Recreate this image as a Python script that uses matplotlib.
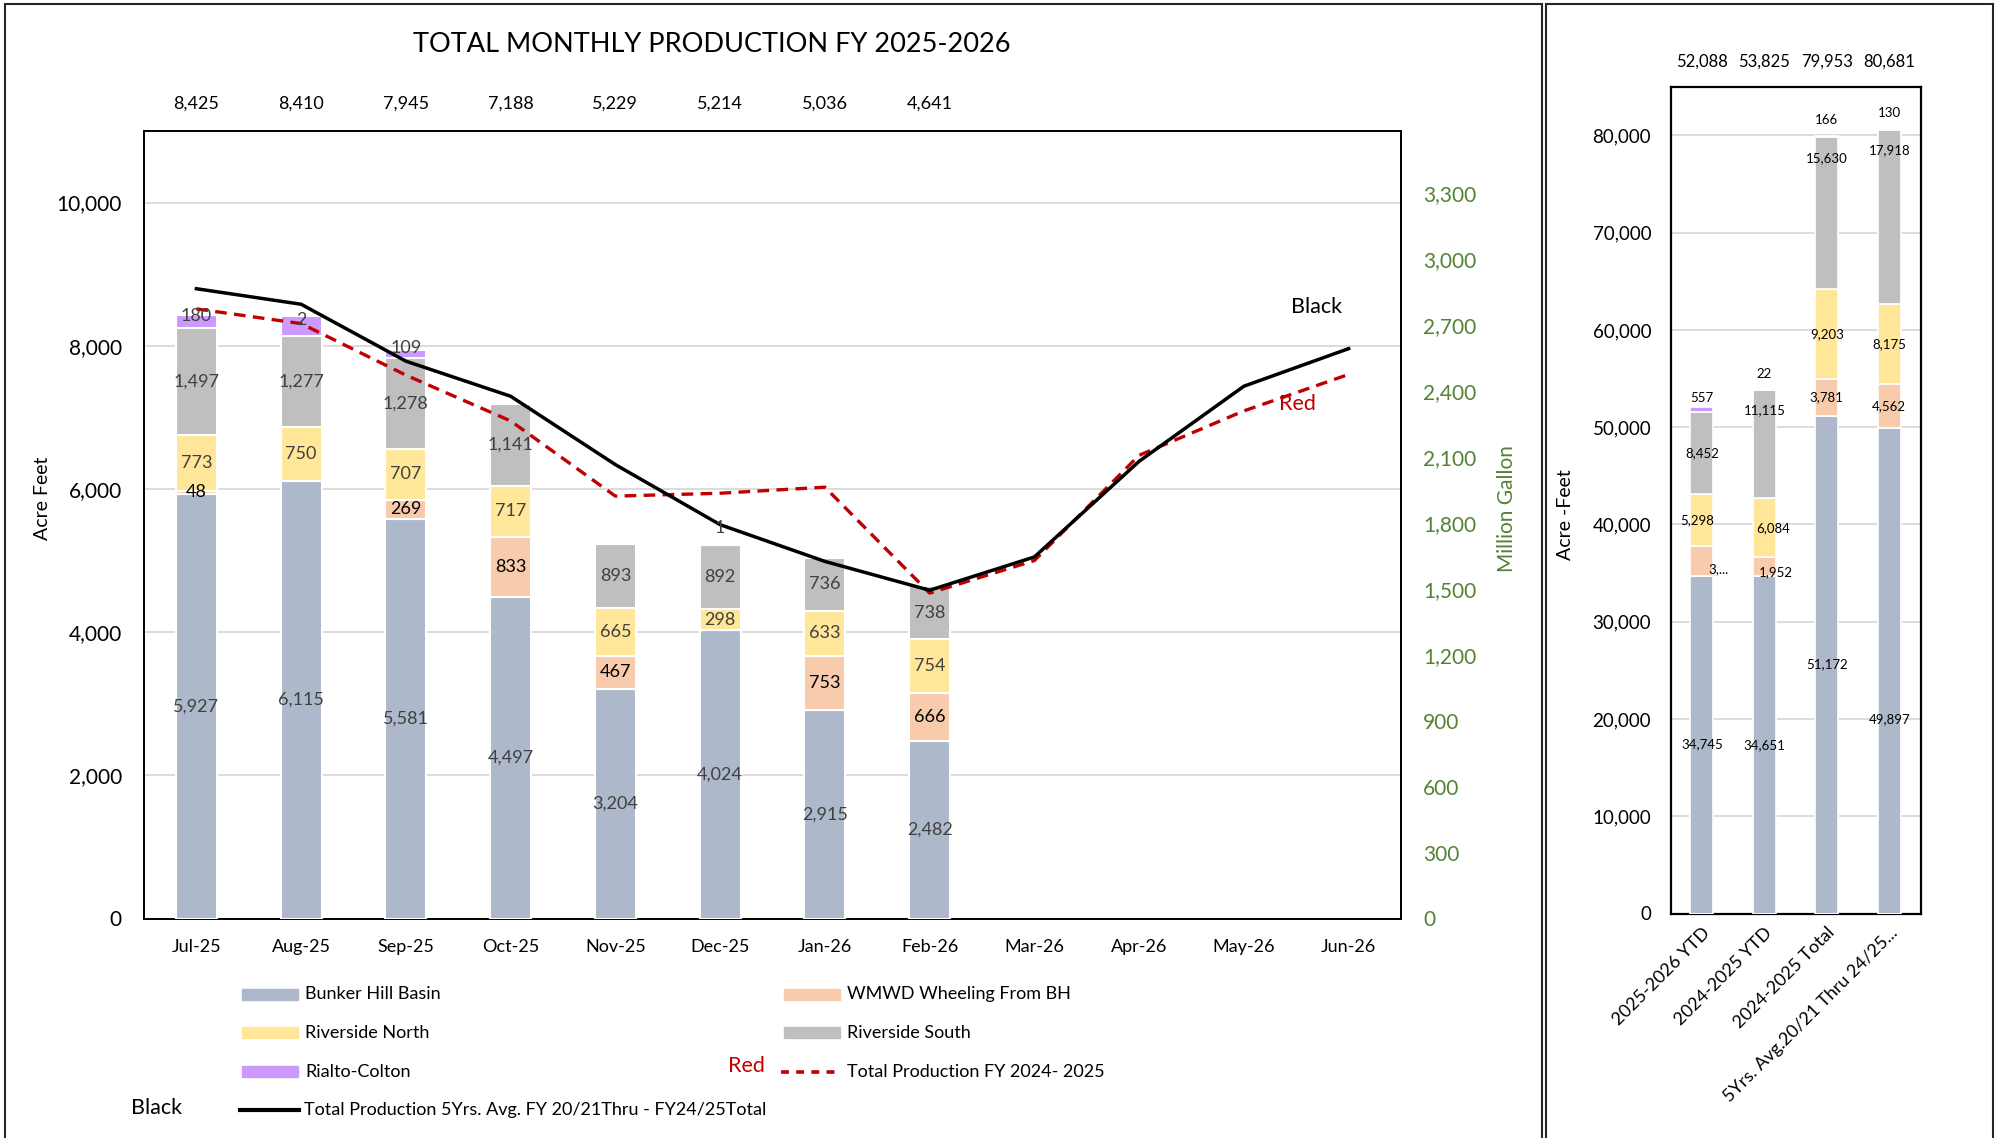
import numpy as np
import matplotlib
matplotlib.use("Agg")
import matplotlib.pyplot as plt
from matplotlib.patches import Rectangle
from matplotlib.lines import Line2D
from matplotlib.ticker import FuncFormatter

plt.rcParams["font.family"] = ["Lato", "DejaVu Sans"]

# ---------------------------------------------------------------------------
# Data (acre-feet)
# ---------------------------------------------------------------------------
months = ["Jul-25", "Aug-25", "Sep-25", "Oct-25", "Nov-25", "Dec-25",
          "Jan-26", "Feb-26", "Mar-26", "Apr-26", "May-26", "Jun-26"]

bunker_hill = [5927, 6115, 5581, 4497, 3204, 4024, 2915, 2482]
wmwd_wheeling = [48, 0, 269, 833, 467, 0, 753, 666]
riverside_north = [773, 750, 707, 717, 665, 298, 633, 754]
riverside_south = [1497, 1277, 1278, 1141, 893, 892, 736, 738]
rialto_colton = [180, 268, 109, 0, 0, 1, 0, 0]
rialto_labels = ["180", "2", "109", "", "", "1", "", ""]
monthly_totals = [8425, 8410, 7945, 7188, 5229, 5214, 5036, 4641]

avg_5yr = [8797, 8580, 7785, 7295, 6340, 5501, 4988, 4585, 5050, 6386, 7435, 7960]
fy_2425 = [8515, 8310, 7590, 6950, 5900, 5940, 6025, 4545, 5000, 6470, 7090, 7600]

summary_cats = ["2025-2026 YTD", "2024-2025 YTD", "2024-2025 Total",
                "5Yrs. Avg.20/21 Thru 24/25..."]
sum_bunker_hill = [34745, 34651, 51172, 49897]
sum_wmwd = [3036, 1952, 3781, 4562]
sum_wmwd_labels = ["3,...", "1,952", "3,781", "4,562"]
sum_riverside_north = [5298, 6084, 9203, 8175]
sum_riverside_south = [8452, 11115, 15630, 17918]
sum_rialto = [557, 22, 166, 130]
sum_totals = [52088, 53825, 79953, 80681]

AF_TO_MG = 0.325851

# ---------------------------------------------------------------------------
# Style
# ---------------------------------------------------------------------------
C_BH = "#ADB9CA"
C_WMWD = "#F8CBAD"
C_RN = "#FFE699"
C_RS = "#BFBFBF"
C_RC = "#CC99FF"
C_RED = "#C00000"
C_GREEN = "#548235"
C_GRID = "#D9D9D9"
C_LBL = "#404040"

W, H = 1999, 1138


def px_rect(l, t, r, b):
    return [l / W, 1 - b / H, (r - l) / W, (b - t) / H]


def px(x, y):
    return x / W, 1 - y / H


def fmt(v):
    return f"{int(round(v)):,}"


fig = plt.figure(figsize=(W / 100, H / 100), dpi=100)
fig.patch.set_facecolor("white")

# outer frames
fig.add_artist(Rectangle(px(5, 1150), 1537 / W, 1146 / H, transform=fig.transFigure,
                         fill=False, edgecolor="#262626", linewidth=1.5))
fig.add_artist(Rectangle(px(1546, 1150), 447 / W, 1146 / H, transform=fig.transFigure,
                         fill=False, edgecolor="#262626", linewidth=1.5))

# ---------------------------------------------------------------------------
# Main monthly chart
# ---------------------------------------------------------------------------
ax = fig.add_axes(px_rect(144, 131, 1401, 918.5))
x = np.arange(len(months))
nb = len(bunker_hill)
xb = x[:nb]

series = [
    (bunker_hill, C_BH, C_LBL, None),
    (wmwd_wheeling, C_WMWD, "black", None),
    (riverside_north, C_RN, C_LBL, None),
    (riverside_south, C_RS, C_LBL, None),
    (rialto_colton, C_RC, C_LBL, rialto_labels),
]
bottom = np.zeros(nb)
for vals, color, lcol, labels in series:
    vals = np.array(vals, dtype=float)
    ax.bar(xb, vals, 0.39, bottom=bottom, color=color, edgecolor="white",
           linewidth=1.5, zorder=3)
    for i in range(nb):
        txt = labels[i] if labels is not None else (fmt(vals[i]) if vals[i] > 0 else "")
        if not txt:
            continue
        yc = bottom[i] + vals[i] / 2
        if labels is not None:
            yc += 240 if vals[i] < 50 else 80
        ax.text(xb[i], yc, txt, ha="center", va="center", fontsize=13,
                color=lcol, zorder=6)
    bottom += vals

ax.plot(x, fy_2425, color=C_RED, linewidth=2.4, dashes=(3.5, 2.2), zorder=5)
ax.plot(x, avg_5yr, color="black", linewidth=2.5, zorder=5)

for i, t in enumerate(monthly_totals):
    ax.text(i, 1.0343, fmt(t), transform=ax.get_xaxis_transform(),
            ha="center", va="center", fontsize=13, color="black")

ax.set_xlim(-0.5, len(months) - 0.5)
ax.set_ylim(0, 11000)
ax.set_yticks(np.arange(0, 10001, 2000))
ax.yaxis.set_major_formatter(FuncFormatter(lambda v, p: f"{int(v):,}"))
ax.set_xticks(x)
ax.set_xticklabels(months)
ax.tick_params(axis="y", length=0, pad=16, labelsize=15)
ax.tick_params(axis="x", length=0, pad=14.5, labelsize=13)
ax.grid(axis="y", color=C_GRID, linewidth=1.3)
ax.set_axisbelow(True)
for s in ax.spines.values():
    s.set_color("black")
    s.set_linewidth(1.4)
ax.set_ylabel("Acre Feet", fontsize=14)
ax.yaxis.set_label_coords(-0.074, 0.534)

ax.text(0.933, 0.776, "Black", transform=ax.transAxes, ha="center", va="center",
        fontsize=15.5, color="black")
ax.text(0.918, 0.653, "Red", transform=ax.transAxes, ha="center", va="center",
        fontsize=15.5, color=C_RED)

ax2 = ax.twinx()
ax2.set_ylim(0, 11000 * AF_TO_MG)
ax2.set_yticks(np.arange(0, 3301, 300))
ax2.yaxis.set_major_formatter(FuncFormatter(lambda v, p: f"{int(v):,}"))
ax2.tick_params(axis="y", length=0, pad=16, labelsize=15, labelcolor=C_GREEN)
for name, s in ax2.spines.items():
    s.set_visible(name == "right")
    s.set_color("black")
    s.set_linewidth(1.4)
ax2.set_ylabel("Million Gallon", fontsize=15, color=C_GREEN)
ax2.yaxis.set_label_coords(1.0764, 0.521)

fig.text(*px(712, 45), "TOTAL MONTHLY PRODUCTION FY 2025-2026", ha="center",
         va="center", fontsize=19.5, color="black")

# ---------------------------------------------------------------------------
# Legend (drawn by hand to match the layout)
# ---------------------------------------------------------------------------
rows = [994, 1032.7, 1071.7, 1110]
patch_items = [
    (242, rows[0], C_BH, "Bunker Hill Basin"),
    (784, rows[0], C_WMWD, "WMWD Wheeling From BH"),
    (242, rows[1], C_RN, "Riverside North"),
    (784, rows[1], C_RS, "Riverside South"),
    (242, rows[2], C_RC, "Rialto-Colton"),
]
for lx, ly, col, lab in patch_items:
    fig.add_artist(Rectangle(px(lx, ly + 5.5), 56 / W, 11 / H,
                             transform=fig.transFigure, color=col))
    fig.text(*px(lx + 63, ly), lab, ha="left", va="center", fontsize=13)

fig.add_artist(Line2D([781 / W, 841 / W], [1 - rows[2] / H] * 2, color=C_RED,
                      linewidth=2.6, dashes=(2.2, 2.0), transform=fig.transFigure))
fig.text(*px(847, rows[2]), "Total Production FY 2024- 2025", ha="left",
         va="center", fontsize=13)
fig.text(*px(746, rows[2] - 6), "Red", ha="center", va="center", fontsize=15.5,
         color=C_RED)

fig.add_artist(Line2D([240 / W, 299 / W], [1 - rows[3] / H] * 2, color="black",
                      linewidth=3, transform=fig.transFigure))
fig.text(*px(304.5, rows[3]), "Total Production 5Yrs. Avg. FY 20/21Thru - FY24/25Total",
         ha="left", va="center", fontsize=13)
fig.text(*px(157, rows[3] - 2), "Black", ha="center", va="center", fontsize=15.5)

# ---------------------------------------------------------------------------
# Summary panel
# ---------------------------------------------------------------------------
axr = fig.add_axes(px_rect(1670.6, 86.7, 1920.5, 913.5))
xs = np.arange(len(summary_cats))

# label nudges in x (category units)
nudge_x = {("rn", 0): -0.08, ("rn", 1): 0.15, ("wm", 0): 0.27, ("wm", 1): 0.19}
sum_series = [
    ("bh", sum_bunker_hill, C_BH, None),
    ("wm", sum_wmwd, C_WMWD, sum_wmwd_labels),
    ("rn", sum_riverside_north, C_RN, None),
    ("rs", sum_riverside_south, C_RS, None),
    ("rc", sum_rialto, C_RC, None),
]
bot = np.zeros(len(xs))
for key, vals, color, labels in sum_series:
    vals = np.array(vals, dtype=float)
    axr.bar(xs, vals, 0.37, bottom=bot, color=color, edgecolor="white",
            linewidth=1.2, zorder=3)
    for i in range(len(xs)):
        txt = labels[i] if labels is not None else fmt(vals[i])
        yc = bot[i] + vals[i] / 2
        if key == "rc":
            yc = bot[i] + vals[i] + (950 if i == 0 else 1600)
        elif key == "rs" and i > 0:
            yc = bot[i] + vals[i] - 2100
        elif key == "wm" and i < 2:
            yc = bot[i] + vals[i] * 0.2
        elif key == "bh" and i == 3:
            yc = vals[i] * 0.4
        axr.text(xs[i] + nudge_x.get((key, i), 0), yc, txt, ha="center",
                 va="center", fontsize=9.5, color="black", zorder=6)
    bot += vals

for i, t in enumerate(sum_totals):
    axr.text(i, 1.0303, fmt(t), transform=axr.get_xaxis_transform(),
             ha="center", va="center", fontsize=12, color="black")

axr.set_xlim(-0.5, len(summary_cats) - 0.5)
axr.set_ylim(0, 85000)
axr.set_yticks(np.arange(0, 80001, 10000))
axr.yaxis.set_major_formatter(FuncFormatter(lambda v, p: f"{int(v):,}"))
axr.set_xticks(xs)
axr.set_xticklabels(summary_cats, rotation=45, ha="right", rotation_mode="anchor")
axr.tick_params(axis="y", length=0, pad=14, labelsize=13.5)
axr.tick_params(axis="x", length=0, pad=8, labelsize=13)
axr.grid(axis="y", color=C_GRID, linewidth=1.3)
axr.set_axisbelow(True)
for s in axr.spines.values():
    s.set_color("black")
    s.set_linewidth(1.6)
axr.set_ylabel("Acre -Feet", fontsize=14)
axr.yaxis.set_label_coords(-0.3866, 0.483)

fig.savefig("out.png", dpi=100, facecolor="white")
